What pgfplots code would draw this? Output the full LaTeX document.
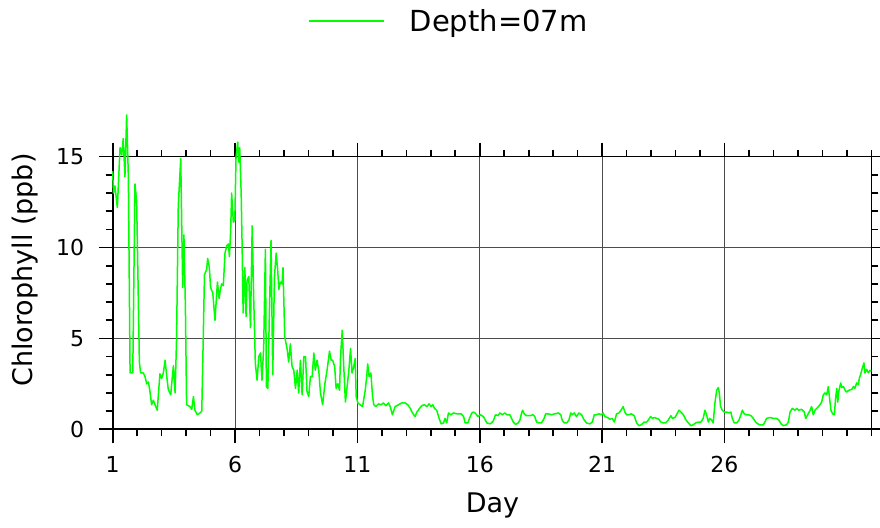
\documentclass[border=0pt]{standalone}
\usepackage{pgfplots}
\pgfplotsset{compat=1.18}
\usepackage{fontspec}
\setmainfont{DejaVu Sans}
\definecolor{lgreen}{RGB}{0,255,0}
\begin{document}
\begin{tikzpicture}
\useasboundingbox (0,0) rectangle (880pt,527pt);
\begin{axis}[
  at={(112.7pt,97.7pt)}, anchor=south west,
  scale only axis, width=758.6pt, height=272.6pt,
  xmin=1, xmax=32, ymin=0, ymax=15,
  clip=false,
  xtick={1,6,11,16,21,26},
  minor xtick={1,...,32},
  ytick={0,5,10,15},
  minor ytick={0,...,15},
  tick align=outside,
  major tick length=14pt, minor tick length=7pt,
  every tick/.style={black, line width=1.6pt},
  axis line style={line width=1.6pt},
  grid=major,
  major grid style={black!70, line width=0.9pt},
  /pgf/number format/assume math mode=true,
  tick label style={font=\fontsize{22}{22}\selectfont, inner sep=0pt},
  xticklabel style={anchor=base, yshift=-29.3pt},
  yticklabel style={anchor=east, xshift=-14.4pt},
  xlabel={Day},
  ylabel={Chlorophyll (ppb)},
  every axis x label/.style={at={(axis description cs:0.5007,-0.306)}, anchor=base,
    font=\fontsize{27}{27}\selectfont, inner sep=0pt},
  every axis y label/.style={at={(axis description cs:-0.1051,0.584)}, anchor=base, rotate=90,
    font=\fontsize{27}{27}\selectfont, inner sep=0pt},
  legend style={draw=none, fill=none, at={(axis description cs:0.2575,1.498)}, anchor=west,
    inner sep=0pt, font=\fontsize{29}{29}\selectfont, nodes={inner sep=0pt}},
  legend image code/.code={\draw[#1] (0pt,0pt) -- (75pt,0pt); \path (100pt,0pt);},
]
\addplot[color=lgreen, line width=1.5pt, line join=round] coordinates {
(1.00,14.2) (1.03,13.0) (1.09,13.4) (1.19,12.2) (1.30,15.5) (1.37,15.1) (1.43,16.0) (1.50,13.9)
(1.57,17.3) (1.64,13.9) (1.71,3.1) (1.82,3.1) (1.91,13.5) (1.98,12.5) (2.09,3.7) (2.14,3.1)
(2.25,3.1) (2.32,2.9) (2.39,2.5) (2.46,2.6) (2.52,2.1) (2.59,1.35) (2.66,1.6) (2.73,1.35)
(2.82,1.05) (2.93,3.05) (3.00,2.8) (3.07,3.1) (3.14,3.8) (3.21,2.9) (3.27,2.2) (3.37,1.9)
(3.48,3.5) (3.55,2.0) (3.61,5.0) (3.68,12.3) (3.78,14.9) (3.86,7.8) (3.91,10.7) (3.97,6.8)
(4.02,1.35) (4.09,1.3) (4.16,1.25) (4.23,1.1) (4.30,1.8) (4.36,1.05) (4.46,0.8) (4.57,0.9)
(4.64,1.0) (4.70,5.0) (4.75,8.5) (4.84,8.8) (4.88,9.4) (4.95,8.9) (5.00,7.8) (5.09,7.5)
(5.18,6.0) (5.28,8.1) (5.35,7.2) (5.39,7.6) (5.45,8.0) (5.52,7.9) (5.59,9.7) (5.66,10.1)
(5.73,10.2) (5.77,9.5) (5.82,10.9) (5.86,13.0) (5.93,11.4) (5.99,11.5) (6.04,15.0) (6.11,15.8)
(6.15,14.7) (6.19,15.5) (6.25,13.0) (6.29,10.0) (6.33,6.4) (6.40,8.9) (6.45,6.2) (6.49,8.2)
(6.56,8.4) (6.63,5.6) (6.70,11.2) (6.76,7.3) (6.83,3.6) (6.90,2.7) (6.97,4.0) (7.04,4.2)
(7.10,2.7) (7.17,4.5) (7.24,9.9) (7.28,2.35) (7.34,2.25) (7.40,6.2) (7.47,10.4) (7.54,3.0)
(7.61,8.4) (7.68,9.7) (7.74,8.8) (7.79,7.7) (7.85,8.1) (7.92,8.0) (7.96,8.9) (8.03,5.1)
(8.13,4.4) (8.19,3.7) (8.26,4.7) (8.33,3.45) (8.40,3.25) (8.47,2.25) (8.54,3.25) (8.60,2.0)
(8.67,3.8) (8.74,1.9) (8.81,4.0) (8.88,4.0) (8.94,2.1) (9.01,1.8) (9.08,2.9) (9.15,2.9)
(9.22,4.2) (9.28,3.25) (9.35,3.8) (9.42,3.25) (9.49,2.0) (9.58,1.35) (9.67,2.5) (9.76,3.25)
(9.86,4.3) (9.93,3.8) (9.99,3.8) (10.07,3.45) (10.13,2.25) (10.20,2.5) (10.27,2.15) (10.31,4.0)
(10.38,5.45) (10.44,3.5) (10.51,1.5) (10.58,2.35) (10.65,3.25) (10.72,4.45) (10.78,3.1) (10.85,3.45)
(10.91,3.9) (10.95,1.8) (11.02,1.45) (11.11,1.35) (11.21,1.25) (11.32,2.15) (11.38,2.9) (11.42,3.6)
(11.48,2.9) (11.55,3.1) (11.62,1.8) (11.67,1.35) (11.75,1.25) (11.86,1.4) (11.97,1.35) (12.06,1.45)
(12.16,1.3) (12.27,1.45) (12.34,1.25) (12.43,0.8) (12.54,1.25) (12.68,1.35) (12.81,1.45) (12.95,1.45)
(13.06,1.35) (13.16,1.15) (13.25,0.9) (13.36,0.7) (13.43,0.95) (13.54,1.15) (13.63,1.3) (13.74,1.35)
(13.84,1.25) (13.93,1.4) (14.01,1.25) (14.08,1.35) (14.15,1.15) (14.24,1.05) (14.34,0.6) (14.42,0.3)
(14.52,0.35) (14.58,0.6) (14.65,0.35) (14.72,0.9) (14.82,0.8) (14.93,0.9) (15.06,0.85) (15.24,0.85)
(15.34,0.7) (15.40,0.35) (15.51,0.35) (15.61,0.7) (15.68,0.9) (15.74,0.95) (15.81,0.9) (15.92,0.7)
(16.02,0.8) (16.15,0.7) (16.29,0.35) (16.43,0.3) (16.55,0.45) (16.64,0.8) (16.75,0.75) (16.82,0.9)
(16.92,0.8) (17.02,0.9) (17.12,0.8) (17.23,0.8) (17.30,0.6) (17.37,0.4) (17.46,0.27) (17.57,0.35)
(17.64,0.5) (17.71,0.9) (17.75,1.05) (17.82,0.85) (17.91,0.75) (18.05,0.75) (18.18,0.8) (18.25,0.7)
(18.32,0.4) (18.41,0.35) (18.52,0.35) (18.63,0.6) (18.69,0.85) (18.80,0.85) (18.93,0.8) (19.07,0.85)
(19.21,0.9) (19.31,0.8) (19.37,0.5) (19.45,0.35) (19.55,0.35) (19.64,0.5) (19.72,0.9) (19.78,0.8)
(19.86,0.9) (19.95,0.7) (20.05,0.9) (20.16,0.8) (20.25,0.55) (20.36,0.35) (20.50,0.3) (20.60,0.4)
(20.68,0.8) (20.77,0.8) (20.87,0.85) (20.98,0.8) (21.04,0.9) (21.11,0.7) (21.22,0.65) (21.32,0.55)
(21.41,0.6) (21.50,0.4) (21.59,0.85) (21.69,0.9) (21.77,1.05) (21.86,1.25) (21.93,0.95) (22.00,0.8)
(22.09,0.8) (22.20,0.85) (22.31,0.75) (22.41,0.35) (22.50,0.2) (22.61,0.25) (22.72,0.4) (22.82,0.4)
(22.91,0.55) (22.98,0.7) (23.06,0.6) (23.13,0.65) (23.23,0.6) (23.32,0.55) (23.40,0.4) (23.50,0.35)
(23.59,0.35) (23.70,0.5) (23.81,0.75) (23.87,0.6) (23.98,0.65) (24.04,0.8) (24.14,1.05) (24.22,0.95)
(24.32,0.8) (24.41,0.55) (24.52,0.35) (24.63,0.2) (24.72,0.25) (24.82,0.35) (24.93,0.4) (25.04,0.4)
(25.13,0.6) (25.20,1.05) (25.27,0.8) (25.34,0.4) (25.40,0.6) (25.48,0.5) (25.54,0.35) (25.61,1.45)
(25.68,2.15) (25.75,2.3) (25.79,2.0) (25.84,1.25) (25.91,1.05) (25.99,0.95) (26.09,0.95) (26.18,0.9)
(26.26,0.95) (26.32,0.6) (26.40,0.35) (26.50,0.35) (26.59,0.5) (26.67,0.8) (26.73,1.05) (26.81,0.85)
(26.90,0.8) (26.97,0.8) (27.08,0.75) (27.18,0.6) (27.27,0.4) (27.36,0.3) (27.45,0.25) (27.59,0.25)
(27.65,0.4) (27.72,0.6) (27.86,0.65) (28.00,0.6) (28.13,0.6) (28.23,0.5) (28.31,0.3) (28.40,0.2)
(28.54,0.25) (28.61,0.4) (28.68,0.95) (28.77,1.15) (28.88,1.05) (28.95,1.15) (29.04,1.05) (29.15,1.1)
(29.26,0.95) (29.32,0.6) (29.40,0.8) (29.50,1.05) (29.56,1.25) (29.63,0.8) (29.70,1.05) (29.77,1.15)
(29.84,1.25) (29.90,1.35) (29.97,1.5) (30.04,1.9) (30.11,2.0) (30.18,1.9) (30.24,2.35) (30.28,1.9)
(30.35,1.05) (30.42,0.85) (30.49,0.8) (30.54,1.7) (30.59,2.25) (30.63,1.5) (30.68,2.15) (30.75,2.55)
(30.79,2.3) (30.86,2.35) (30.93,2.15) (30.99,2.05) (31.09,2.15) (31.20,2.2) (31.27,2.35) (31.33,2.25)
(31.40,2.55) (31.47,2.45) (31.51,2.8) (31.58,3.1) (31.63,3.35) (31.70,3.65) (31.74,3.1) (31.81,3.3)
(31.88,3.1) (31.95,3.25) (32.00,3.2)
};
\addlegendentry{Depth=07m}
\end{axis}
\end{tikzpicture}
\end{document}
